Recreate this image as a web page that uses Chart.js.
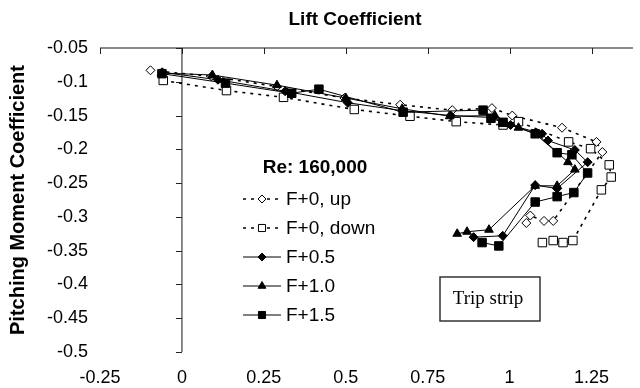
<!DOCTYPE html>
<html>
<head>
<meta charset="utf-8">
<script src="https://cdn.jsdelivr.net/npm/chart.js@4.4.0/dist/chart.umd.min.js"></script>
<style>
  html, body { margin: 0; padding: 0; background: #fff; }
  #wrap { width: 640px; height: 388px; }
</style>
</head>
<body>
<div id="wrap"><canvas id="chart-canvas"></canvas></div>
<script>
const xTicks = [-0.25, 0, 0.25, 0.5, 0.75, 1, 1.25];
const yTicks = [-0.05, -0.1, -0.15, -0.2, -0.25, -0.3, -0.35, -0.4, -0.45, -0.5];

const seriesNames = ["F+0, up", "F+0, down", "F+0.5", "F+1.0", "F+1.5"];

const upLift = [-0.096, 0.09, 0.29, 0.496, 0.666, 0.825, 0.946, 1.008, 1.16, 1.265, 1.283, 1.133, 1.105, 1.063, 1.051];
const upMoment = [-0.083, -0.092, -0.107, -0.124, -0.134, -0.142, -0.139, -0.15, -0.168, -0.189, -0.204, -0.306, -0.306, -0.298, -0.309];

const downLift = [-0.057, 0.136, 0.31, 0.526, 0.696, 0.837, 0.98, 1.027, 1.18, 1.247, 1.304, 1.31, 1.28, 1.193, 1.163, 1.133, 1.1];
const downMoment = [-0.098, -0.113, -0.123, -0.141, -0.151, -0.159, -0.164, -0.159, -0.189, -0.199, -0.223, -0.241, -0.26, -0.335, -0.338, -0.335, -0.338];

const lift05 = [-0.06, 0.11, 0.315, 0.506, 0.675, 0.82, 0.95, 1.003, 1.099, 1.117, 1.199, 1.238, 1.145, 1.078, 0.979, 0.89];
const moment05 = [-0.086, -0.097, -0.114, -0.131, -0.143, -0.15, -0.153, -0.164, -0.177, -0.187, -0.201, -0.219, -0.258, -0.253, -0.328, -0.33];

const lift10 = [-0.062, 0.093, 0.29, 0.5, 0.672, 0.817, 0.955, 1.027, 1.085, 1.178, 1.199, 1.145, 1.078, 0.937, 0.87, 0.84];
const moment10 = [-0.087, -0.09, -0.105, -0.124, -0.14, -0.151, -0.15, -0.168, -0.178, -0.219, -0.23, -0.254, -0.254, -0.319, -0.322, -0.325];

const lift15 = [-0.061, 0.133, 0.335, 0.418, 0.675, 0.919, 0.943, 0.98, 1.078, 1.145, 1.19, 1.238, 1.196, 1.145, 1.078, 0.967, 0.916];
const moment15 = [-0.088, -0.102, -0.117, -0.111, -0.145, -0.142, -0.154, -0.16, -0.177, -0.205, -0.208, -0.235, -0.264, -0.27, -0.278, -0.343, -0.338];

function pairs(xs, ys) {
  return xs.map((x, i) => ({ x: x, y: ys[i] }));
}

// marker sizes: chart.js "rect" radius is the half diagonal
const markerRadius = { rect: 6, rectRot: 4.5, triangle: 5 };
const legendRadius = { rect: 5, rectRot: 4, triangle: 4.5 };

function series(label, xs, ys, style, filled, dashed, order) {
  return {
    label: label,
    data: pairs(xs, ys),
    showLine: true,
    order: order,
    borderColor: "#000",
    backgroundColor: filled ? "#000" : "#fff",
    borderWidth: dashed ? 1.6 : 1,
    borderDash: dashed ? [3, 5] : [],
    pointStyle: style,
    pointRadius: markerRadius[style],
    pointBorderColor: "#000",
    pointBackgroundColor: filled ? "#000" : "#fff",
    pointBorderWidth: 1
  };
}

const datasets = [
  series(seriesNames[0], upLift, upMoment, "rectRot", false, true, 5),
  series(seriesNames[1], downLift, downMoment, "rect", false, true, 4),
  series(seriesNames[2], lift05, moment05, "rectRot", true, false, 3),
  series(seriesNames[3], lift10, moment10, "triangle", true, false, 2),
  series(seriesNames[4], lift15, moment15, "rect", true, false, 1)
];

const FONT = "'Liberation Sans', Arial, sans-serif";

// axis lines cross at x = 0 and y = -0.05, labels sit outside
const overlay = {
  id: "overlay",
  beforeDatasetsDraw(chart) {
    const ctx = chart.ctx;
    const xs = chart.scales.x;
    const ys = chart.scales.y;
    const area = chart.chartArea;
    const yTop = ys.getPixelForValue(-0.05);
    const x0 = xs.getPixelForValue(0);
    ctx.save();
    ctx.strokeStyle = "#666";
    ctx.lineWidth = 1.5;
    ctx.beginPath();
    ctx.moveTo(area.left, yTop);
    ctx.lineTo(area.right, yTop);
    ctx.moveTo(x0, area.top);
    ctx.lineTo(x0, area.bottom);
    ctx.stroke();
    ctx.strokeStyle = "#222";
    ctx.lineWidth = 1;
    ctx.beginPath();
    xTicks.forEach((v) => {
      const px = Math.round(xs.getPixelForValue(v)) + 0.5;
      ctx.moveTo(px, yTop);
      ctx.lineTo(px, yTop + 6);
    });
    yTicks.forEach((v) => {
      const py = Math.round(ys.getPixelForValue(v)) + 0.5;
      ctx.moveTo(x0, py);
      ctx.lineTo(x0 - 6, py);
    });
    ctx.stroke();
    ctx.restore();
  },
  afterDraw(chart) {
    const ctx = chart.ctx;
    ctx.save();
    // top title
    ctx.fillStyle = "#000";
    ctx.font = "bold 19px " + FONT;
    ctx.textAlign = "center";
    ctx.textBaseline = "middle";
    ctx.fillText("Lift Coefficient", 355, 20);

    // legend
    ctx.fillText("Re: 160,000", 315, 168);
    ctx.font = "19px " + FONT;
    ctx.textAlign = "left";
    chart.data.datasets.forEach((ds, i) => {
      const y = 199 + i * 29;
      ctx.strokeStyle = "#000";
      ctx.lineWidth = ds.borderWidth;
      ctx.setLineDash(ds.borderDash);
      ctx.beginPath();
      ctx.moveTo(243, y);
      ctx.lineTo(281, y);
      ctx.stroke();
      ctx.setLineDash([]);
      ctx.fillStyle = ds.pointBackgroundColor;
      ctx.strokeStyle = "#000";
      ctx.lineWidth = 1;
      Chart.helpers.drawPoint(ctx, { pointStyle: ds.pointStyle, radius: legendRadius[ds.pointStyle], borderWidth: 1, rotation: 0 }, 262, y);
      ctx.fillStyle = "#000";
      ctx.fillText(ds.label, 286, y + 1);
    });

    // trip strip note
    ctx.fillStyle = "#fff";
    ctx.fillRect(440, 277, 100, 44);
    ctx.strokeStyle = "#333";
    ctx.lineWidth = 1.5;
    ctx.strokeRect(440, 277, 100, 44);
    ctx.fillStyle = "#000";
    ctx.font = "19px 'Liberation Serif', 'Times New Roman', serif";
    ctx.textAlign = "center";
    ctx.fillText("Trip strip", 488, 299);
    ctx.restore();
  }
};

new Chart(document.getElementById("chart-canvas"), {
  type: "scatter",
  data: { datasets: datasets },
  plugins: [overlay],
  options: {
    responsive: true,
    maintainAspectRatio: false,
    animation: false,
    layout: { padding: { top: 48, right: 0, left: 0, bottom: 0 } },
    plugins: { legend: { display: false }, tooltip: { enabled: false } },
    scales: {
      x: {
        type: "linear",
        min: -0.25,
        max: 1.3765,
        afterBuildTicks: (scale) => { scale.ticks = xTicks.map((v) => ({ value: v })); },
        afterFit: (scale) => { scale.height = 36; },
        grid: { display: false, drawTicks: false },
        border: { display: false },
        ticks: {
          color: "#000",
          font: { family: FONT, size: 18 },
          padding: 15,
          maxRotation: 0,
          autoSkip: false,
          callback: (v) => String(v)
        }
      },
      y: {
        type: "linear",
        min: -0.5,
        max: -0.05,
        afterBuildTicks: (scale) => { scale.ticks = yTicks.map((v) => ({ value: v })); },
        afterFit: (scale) => { scale.width = 100; },
        grid: { display: false, drawTicks: false },
        border: { display: false },
        ticks: {
          color: "#000",
          font: { family: FONT, size: 18 },
          padding: 12,
          autoSkip: false,
          callback: (v) => String(v)
        },
        title: {
          display: true,
          text: "Pitching Moment Coefficient",
          color: "#000",
          font: { family: FONT, size: 20, weight: "bold" },
          padding: { top: 6, bottom: 0 }
        }
      }
    }
  }
});
</script>
</body>
</html>
